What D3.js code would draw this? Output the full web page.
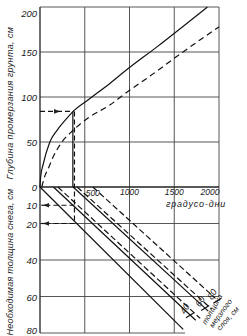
<!DOCTYPE html>
<html>
<head>
  <meta charset="utf-8">
  <script src="https://d3js.org/d3.v7.min.js"></script>
  <style>
  body { margin: 0; background: #fff; }
  text { font-family: "Liberation Sans", Arial, sans-serif; font-style: italic; fill: #222; }
  .grid { stroke: #444; stroke-width: 0.9px; fill: none; }
  .axis { stroke: #222; stroke-width: 1.3px; fill: none; }
  .curve { stroke: #111; stroke-width: 1.2px; fill: none; }
  </style>
</head>
<body>
  <div id="chart"></div>
  <script>
    // degree-days axis and tick labels
    var ddTicks = [500, 1000, 1500, 2000];
    var depthTicks = [0, 50, 100, 150, 200];
    var snowTicks = [10, 20, 40, 60, 80];

    // frost depth curves [degree-days, cm]
    var solidCurve = [[0, 0], [8, 12], [35, 25], [110, 50], [190, 63], [280, 74], [370, 84],
                      [540, 97], [780, 115], [940, 128], [1310, 156], [1870, 200]];
    var dashedCurve = [[20, 0], [50, 11], [90, 20], [145, 33], [245, 50], [370, 63], [540, 77],
                       [780, 91], [940, 103], [1310, 129], [1500, 143], [2000, 178]];

    // needed snow lines [degree-days, cm]
    var snowLines = [
      [[0, 0], [1600, 78]],
      [[150, 0], [1740, 73]],
      [[200, 0], [1790, 72]],
      [[370, 0], [1880, 68]],
      [[415, 0], [1920, 67]],
      [[590, 0], [1960, 61]]
    ];
    var snowLineSoil = ["a", "a", "b", "a", "b", "b"];
    var frozenLabels = ["40", "60", "80"];

    // example reading
    var exampleDD = 375;
    var exampleDepth = 84;
    var exampleSnow = [10, 20];

    var width = 247, height = 336;
    var svg = d3.select("#chart").append("svg")
      .attr("width", width).attr("height", height);

    var defs = svg.append("defs");
    defs.append("marker").attr("id", "arr").attr("viewBox", "0 0 10 10")
      .attr("refX", 5).attr("refY", 5).attr("markerWidth", 5).attr("markerHeight", 5)
      .attr("orient", "auto")
      .append("path").attr("d", "M0,1L10,5L0,9Z").attr("fill", "#222");

    var x = d3.scaleLinear().domain([0, 2000]).range([40, 219]);
    var yTop = d3.scaleLinear().domain([0, 200]).range([187, 7]);
    var yBot = d3.scaleLinear().domain([0, 80]).range([187, 333]);

    // grid, top panel
    svg.selectAll(".gvt").data(ddTicks).enter().append("line").attr("class", "grid")
      .attr("x1", d => x(d)).attr("x2", d => x(d))
      .attr("y1", yTop(200)).attr("y2", yTop(0));
    svg.selectAll(".ght").data(depthTicks.slice(1)).enter().append("line").attr("class", "grid")
      .attr("x1", x(0)).attr("x2", x(2000))
      .attr("y1", d => yTop(d)).attr("y2", d => yTop(d));

    // grid, bottom panel (corner left open for labels)
    svg.selectAll(".gvb").data(ddTicks).enter().append("line").attr("class", "grid")
      .attr("x1", d => x(d)).attr("x2", d => x(d))
      .attr("y1", yBot(0)).attr("y2", d => d == 2000 ? yBot(60) : yBot(80));
    svg.selectAll(".ghb").data([20, 40, 60, 80]).enter().append("line").attr("class", "grid")
      .attr("x1", x(0)).attr("x2", d => d == 80 ? x(1620) : x(2000))
      .attr("y1", d => yBot(d)).attr("y2", d => yBot(d));

    // axes
    svg.append("line").attr("class", "axis")
      .attr("x1", x(0)).attr("x2", x(0)).attr("y1", yTop(200)).attr("y2", yBot(80));
    svg.append("line").attr("class", "axis")
      .attr("x1", x(0)).attr("x2", x(2000)).attr("y1", yTop(0)).attr("y2", yTop(0));

    // tick labels
    svg.selectAll(".tt").data(depthTicks).enter().append("text")
      .attr("x", 37).attr("y", d => d == 200 ? yTop(d) + 10 : yTop(d) + 4)
      .attr("text-anchor", "end").attr("font-size", 9.5)
      .text(d => d);
    svg.selectAll(".tb").data(snowTicks).enter().append("text")
      .attr("x", 37).attr("y", d => d == 80 ? yBot(d) + 1 : yBot(d) + 4)
      .attr("text-anchor", "end").attr("font-size", 9.5)
      .text(d => d);
    svg.selectAll(".tx").data(ddTicks).enter().append("text")
      .attr("x", d => d == 500 ? x(d) + 8 : d == 2000 ? x(d) - 9 : x(d))
      .attr("y", d => d == 500 ? yTop(0) + 9 : yTop(0) + 8)
      .attr("text-anchor", "middle").attr("font-size", 8.5)
      .text(d => d);
    svg.append("text").attr("x", 196).attr("y", 207)
      .attr("text-anchor", "middle").attr("font-size", 9).attr("letter-spacing", 0.8)
      .text("градусо-дни");

    // axis titles
    svg.append("text").attr("transform", "translate(13,103) rotate(-90)")
      .attr("text-anchor", "middle").attr("font-size", 9).attr("letter-spacing", 0.4)
      .text("Глубина промерзания грунта, см");
    svg.append("text").attr("transform", "translate(13,262) rotate(-90)")
      .attr("text-anchor", "middle").attr("font-size", 9).attr("letter-spacing", 0.2)
      .text("Необходимая толщина снега, см");

    // frost depth curves
    var lineTop = d3.line().x(d => x(d[0])).y(d => yTop(d[1])).curve(d3.curveMonotoneX);
    svg.append("path").attr("class", "curve").attr("d", lineTop(solidCurve));
    svg.append("path").attr("class", "curve").attr("stroke-dasharray", "6,4")
      .attr("d", lineTop(dashedCurve));

    // snow lines
    var lineBot = d3.line().x(d => x(d[0])).y(d => yBot(d[1]));
    svg.selectAll(".snow").data(snowLines).enter().append("path").attr("class", "curve")
      .attr("stroke-dasharray", (d, i) => snowLineSoil[i] == "b" ? "6,3" : null)
      .attr("d", d => lineBot(d));

    // example reading
    svg.append("line").attr("class", "curve")
      .attr("x1", x(exampleDD - 8)).attr("x2", x(exampleDD - 8))
      .attr("y1", yTop(exampleDepth)).attr("y2", yTop(0));
    svg.append("line").attr("class", "curve").attr("stroke-dasharray", "5,3")
      .attr("x1", x(exampleDD + 10)).attr("x2", x(exampleDD + 10))
      .attr("y1", yTop(exampleDepth)).attr("y2", yBot(exampleSnow[1]));
    svg.append("line").attr("class", "curve").attr("stroke-dasharray", "5,3")
      .attr("x1", x(0)).attr("x2", x(190)).attr("y1", yTop(exampleDepth)).attr("y2", yTop(exampleDepth))
      .attr("marker-end", "url(#arr)");
    svg.append("line").attr("class", "curve").attr("stroke-dasharray", "5,3")
      .attr("x1", x(190)).attr("x2", x(exampleDD)).attr("y1", yTop(exampleDepth)).attr("y2", yTop(exampleDepth));
    svg.selectAll(".ex").data(exampleSnow).enter().append("line").attr("class", "curve")
      .attr("stroke-dasharray", "5,3")
      .attr("x1", x(exampleDD + 10)).attr("x2", x(70))
      .attr("y1", d => yBot(d)).attr("y2", d => yBot(d))
      .attr("marker-end", "url(#arr)");
    svg.selectAll(".ex2").data(exampleSnow).enter().append("line").attr("class", "curve")
      .attr("x1", x(70)).attr("x2", x(0))
      .attr("y1", d => yBot(d)).attr("y2", d => yBot(d)).attr("stroke-dasharray", "5,3");

    // frozen layer labels
    var labelPos = [[1620, 70], [1790, 66], [1925, 62]];
    svg.selectAll(".fl").data(frozenLabels).enter().append("text")
      .attr("transform", (d, i) => "translate(" + x(labelPos[i][0]) + "," + yBot(labelPos[i][1]) + ") rotate(-60)")
      .attr("font-size", 9).text(d => d);
    svg.selectAll(".flt").data(frozenLabels).enter().append("line").attr("class", "curve")
      .attr("stroke-width", 0.8)
      .attr("x1", (d, i) => x(labelPos[i][0]) + 1).attr("x2", (d, i) => x(labelPos[i][0]) + 9)
      .attr("y1", (d, i) => yBot(labelPos[i][1]) + 3).attr("y2", (d, i) => yBot(labelPos[i][1]) - 2);
    var noteLines = ["толщина", "мерзлого", "слоя, см"];
    svg.selectAll(".note").data(noteLines).enter().append("text")
      .attr("transform", (d, i) => "translate(" + (206 + i * 7) + "," + (325 + i * 3) + ") rotate(" + (-60 + i * 6) + ")")
      .attr("font-size", 7.5).text(d => d);
  </script>
</body>
</html>
